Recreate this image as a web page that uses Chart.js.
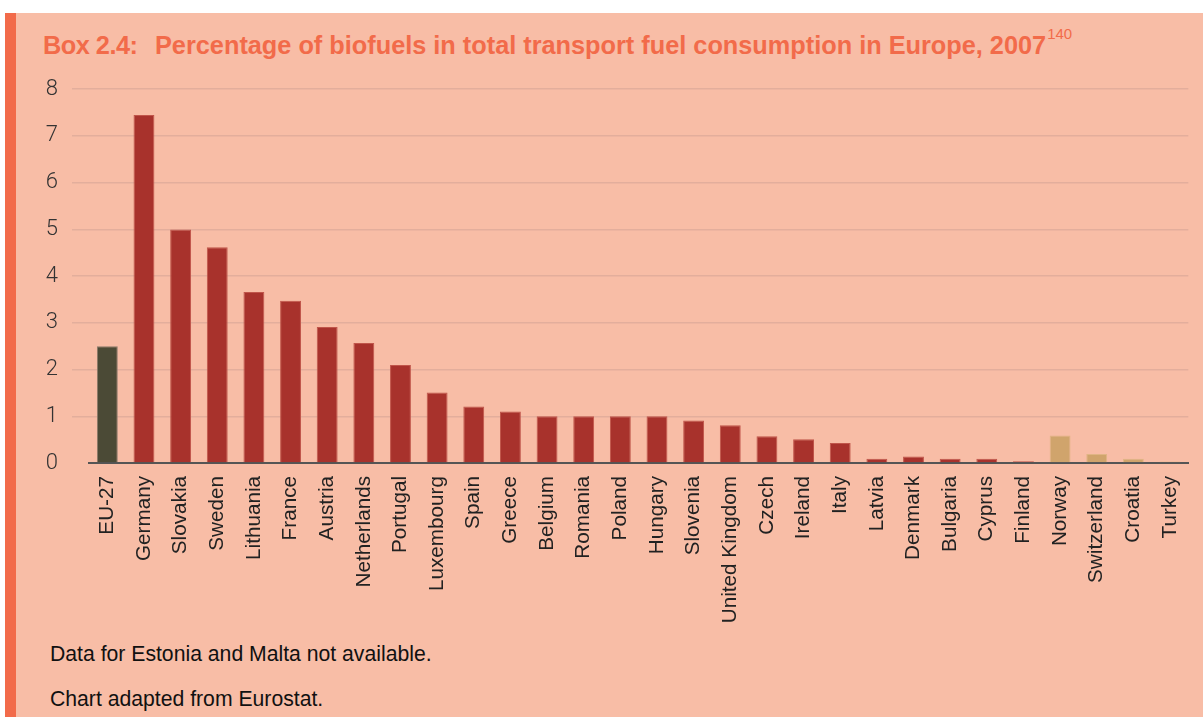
<!DOCTYPE html>
<html>
<head>
<meta charset="utf-8">
<script src="https://cdn.jsdelivr.net/npm/chart.js@4.4.1/dist/chart.umd.min.js"></script>
<style>
  html, body { margin: 0; padding: 0; background: #fff; }
  body { width: 1203px; height: 717px; position: relative; overflow: hidden; font-family: "Liberation Sans", Arial, sans-serif; }
  #box { position: absolute; left: 5px; top: 13px; width: 1198px; height: 704px; background: #F8BDA6; }
  #stripe { position: absolute; left: 0; top: 0; width: 11px; height: 100%; background: #F26B4A; }
  #title { position: absolute; left: 38px; top: 17px; font-size: 25.3px; font-weight: bold; color: #F26B4A; white-space: nowrap; line-height: 30px; }
  #title .lbl { display: inline-block; width: 112px; letter-spacing: -0.5px; }
  #title sup { font-size: 15px; font-weight: normal; vertical-align: top; line-height: 16px; position: relative; top: -4px; margin-left: 1px; }
  .note { position: absolute; left: 45px; font-size: 21.2px; color: #111; }
  #wrap { position: absolute; left: 35px; top: 49px; width: 1160px; height: 562px; }
</style>
</head>
<body>
<div id="box">
  <div id="stripe"></div>
  <div id="title"><span class="lbl">Box 2.4:</span>Percentage of biofuels in total transport fuel consumption in Europe, 2007<sup>140</sup></div>
  <div id="wrap"><canvas id="chart"></canvas></div>
  <div class="note" style="top:629px">Data for Estonia and Malta not available.</div>
  <div class="note" style="top:674px">Chart adapted from Eurostat.</div>
</div>
<script>
var countries = ['EU-27', 'Germany', 'Slovakia', 'Sweden', 'Lithuania', 'France', 'Austria', 'Netherlands',
  'Portugal', 'Luxembourg', 'Spain', 'Greece', 'Belgium', 'Romania', 'Poland', 'Hungary', 'Slovenia',
  'United Kingdom', 'Czech', 'Ireland', 'Italy', 'Latvia', 'Denmark', 'Bulgaria', 'Cyprus', 'Finland',
  'Norway', 'Switzerland', 'Croatia', 'Turkey'];
var share = [2.5, 7.45, 5.0, 4.62, 3.66, 3.47, 2.91, 2.57, 2.1, 1.51, 1.21, 1.1, 1.0, 1.0, 1.0, 1.0, 0.91,
  0.81, 0.57, 0.51, 0.43, 0.09, 0.14, 0.09, 0.09, 0.04, 0.59, 0.19, 0.09, 0.03];
var group = ['eu', 'm', 'm', 'm', 'm', 'm', 'm', 'm', 'm', 'm', 'm', 'm', 'm', 'm', 'm', 'm', 'm',
  'm', 'm', 'm', 'm', 'm', 'm', 'm', 'm', 'm', 'o', 'o', 'o', 'o'];
var yTicks = [0, 1, 2, 3, 4, 5, 6, 7, 8];

var fills = { eu: '#4B4A36', m: '#A8322C', o: '#D0A46C' };
var edges = { eu: '#8a7a6a', m: '#c0554a', o: '#e0b585' };

var canvas = document.getElementById('chart');
canvas.width = 1160;
canvas.height = 562;
new Chart(canvas, {
  type: 'bar',
  data: {
    labels: countries,
    datasets: [{
      data: share,
      backgroundColor: group.map(function (g) { return fills[g]; }),
      borderColor: group.map(function (g) { return edges[g]; }),
      borderWidth: 1,
      borderSkipped: 'bottom',
      barPercentage: 0.57,
      categoryPercentage: 1.0
    }]
  },
  options: {
    responsive: false,
    animation: false,
    layout: { padding: { top: 7, right: 9, left: 0, bottom: 0 } },
    plugins: { legend: { display: false }, tooltip: { enabled: false } },
    scales: {
      x: {
        grid: { display: false },
        border: { display: true, color: '#555', width: 2 },
        ticks: {
          minRotation: 90, maxRotation: 90, autoSkip: false, padding: 5,
          color: '#222', font: { family: 'Liberation Sans', size: 20.7 }
        },
        afterFit: function (s) { s.height = 161; }
      },
      y: {
        min: 0, max: 8,
        afterBuildTicks: function (s) { s.ticks = yTicks.map(function (v) { return { value: v }; }); },
        grid: {
          color: function (c) { return c.tick && c.tick.value === 0 ? 'rgba(0,0,0,0)' : '#E3AE9C'; },
          lineWidth: 1.5, drawTicks: true, tickLength: 17
        },
        border: { display: false },
        ticks: {
          padding: 14, color: '#333',
          font: { family: 'Roboto', size: 22, weight: 300 }
        },
        afterFit: function (s) { s.width = 49; }
      }
    }
  }
});
</script>
</body>
</html>
